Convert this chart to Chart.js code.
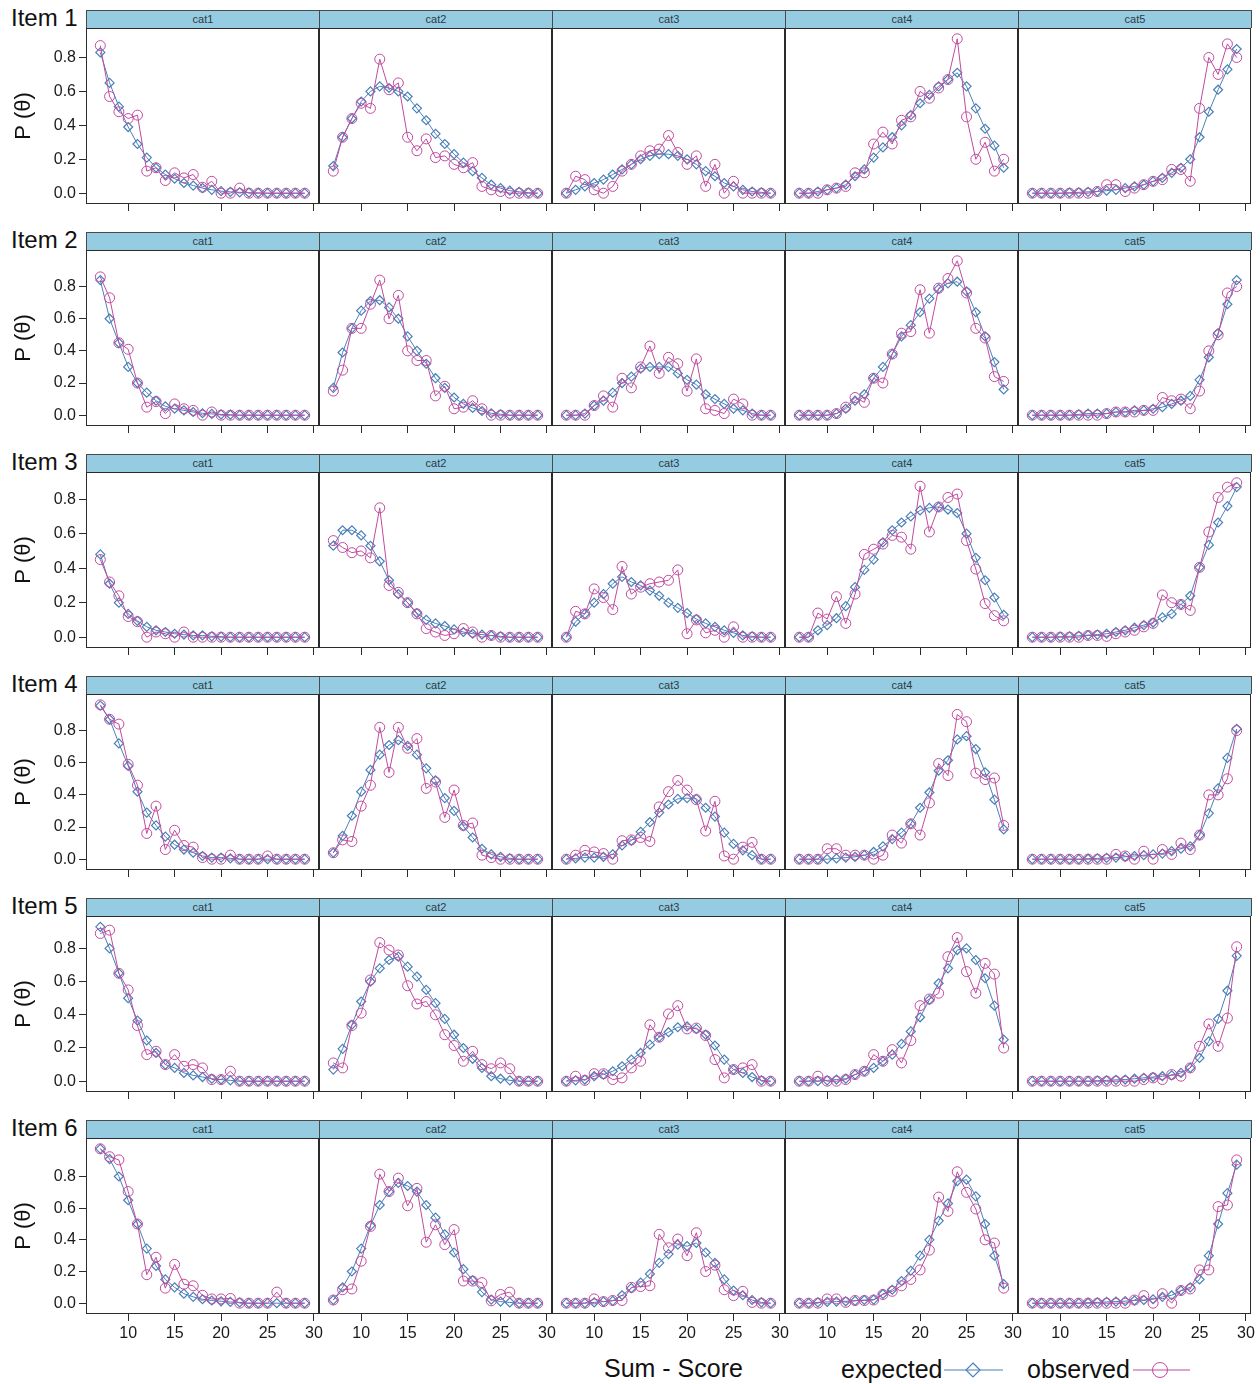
<!DOCTYPE html>
<html>
<head>
<meta charset="utf-8">
<script src="https://cdn.jsdelivr.net/npm/chart.js@4.4.1/dist/chart.umd.min.js"></script>
<style>
  body { margin: 0; background: #fff; }
  #fig { position: relative; width: 1260px; height: 1384px; overflow: hidden;
         font-family: "Liberation Sans", Arial, Helvetica, sans-serif; color: #111; }
  .strip { position: absolute; box-sizing: border-box; background: #95cce2;
           border: 1px solid #4a4a4a; border-bottom: none; font-size: 11px;
           line-height: 16px; text-align: center; color: #2d3a44; }
  .item { position: absolute; left: 11px; font-size: 24px; line-height: 24px; white-space: nowrap; }
  .box { position: absolute; }
  .xlab { position: absolute; font-size: 25px; line-height: 25px; white-space: nowrap; }
</style>
</head>
<body>
<div id="fig"></div>
<script>
// sum scores on the x axis
const sumScores = [7, 8, 9, 10, 11, 12, 13, 14, 15, 16, 17, 18, 19, 20, 21, 22, 23, 24, 25, 26, 27, 28, 29];
const xTicks = [10, 15, 20, 25, 30];
const yTicks = [0, 0.2, 0.4, 0.6, 0.8];
const categories = ['cat1', 'cat2', 'cat3', 'cat4', 'cat5'];
const items = ['Item 1', 'Item 2', 'Item 3', 'Item 4', 'Item 5', 'Item 6'];

// one list per category (cat1..cat5), values per sum score
const item1Expected = [
  [0.83,0.65,0.51,0.39,0.29,0.21,0.15,0.11,0.085,0.06,0.045,0.03,0.02,0.012,0.008,0.005,0.003,0.002,0,0,0,0,0],
  [0.16,0.33,0.44,0.54,0.60,0.63,0.62,0.60,0.57,0.50,0.43,0.35,0.29,0.23,0.18,0.13,0.09,0.05,0.03,0.015,0.008,0.003,0],
  [0,0.02,0.04,0.06,0.08,0.11,0.14,0.17,0.20,0.22,0.23,0.23,0.22,0.20,0.17,0.13,0.10,0.06,0.04,0.02,0.01,0.005,0],
  [0,0,0.01,0.02,0.03,0.05,0.10,0.14,0.21,0.27,0.33,0.40,0.46,0.53,0.58,0.63,0.67,0.71,0.63,0.50,0.38,0.28,0.15],
  [0,0,0,0,0.003,0.005,0.008,0.01,0.015,0.02,0.03,0.04,0.05,0.07,0.09,0.12,0.15,0.20,0.33,0.48,0.61,0.73,0.85]
];
const item1Observed = [
  [0.87,0.57,0.48,0.44,0.46,0.13,0.15,0.075,0.12,0.09,0.11,0.035,0.07,0,0,0.03,0,0,0,0,0,0,0],
  [0.13,0.33,0.44,0.53,0.50,0.79,0.61,0.65,0.33,0.25,0.32,0.21,0.22,0.17,0.15,0.18,0.04,0.02,0.01,0,0,0,0],
  [0,0.10,0.08,0.02,0,0.04,0.13,0.17,0.22,0.25,0.26,0.34,0.24,0.17,0.22,0.04,0.17,0,0.07,0,0,0,0],
  [0,0,0,0.02,0.03,0.04,0.12,0.12,0.29,0.36,0.29,0.43,0.45,0.60,0.56,0.62,0.67,0.91,0.45,0.20,0.30,0.13,0.20],
  [0,0,0,0,0,0,0,0.01,0.05,0.05,0.01,0.03,0.05,0.07,0.08,0.14,0.14,0.07,0.50,0.80,0.70,0.88,0.80]
];

const item2Expected = [
  [0.84,0.60,0.45,0.30,0.20,0.14,0.09,0.055,0.04,0.03,0.02,0.012,0.008,0.005,0.003,0,0,0,0,0,0,0,0],
  [0.17,0.39,0.54,0.65,0.71,0.715,0.67,0.60,0.49,0.40,0.32,0.23,0.17,0.11,0.07,0.045,0.026,0.012,0.006,0,0,0,0],
  [0,0,0.01,0.06,0.09,0.14,0.20,0.24,0.29,0.30,0.30,0.30,0.26,0.22,0.19,0.13,0.10,0.07,0.04,0.03,0.01,0,0],
  [0,0,0,0,0.01,0.04,0.09,0.13,0.23,0.30,0.38,0.49,0.56,0.64,0.725,0.785,0.82,0.83,0.77,0.64,0.49,0.33,0.16],
  [0,0,0,0,0,0.005,0.01,0.01,0.01,0.02,0.02,0.03,0.03,0.04,0.05,0.07,0.09,0.12,0.22,0.36,0.51,0.69,0.84]
];
const item2Observed = [
  [0.86,0.73,0.45,0.41,0.20,0.05,0.085,0.01,0.07,0.04,0.03,0,0.02,0,0,0,0,0,0,0,0,0,0],
  [0.15,0.28,0.54,0.54,0.69,0.84,0.60,0.745,0.40,0.34,0.34,0.12,0.18,0.04,0.05,0.09,0.04,0,0,0,0,0,0],
  [0,0,0,0.06,0.12,0.05,0.23,0.17,0.30,0.43,0.26,0.36,0.32,0.15,0.35,0.04,0.03,0.01,0.10,0.07,0,0,0],
  [0,0,0,0,0.01,0.05,0.11,0.08,0.23,0.20,0.38,0.51,0.52,0.78,0.51,0.79,0.85,0.96,0.76,0.54,0.48,0.24,0.21],
  [0,0,0,0,0,0,0,0,0.01,0.02,0.02,0.02,0.03,0.03,0.11,0.09,0.10,0.04,0.15,0.40,0.50,0.76,0.80]
];

const item3Expected = [
  [0.48,0.31,0.20,0.135,0.095,0.06,0.04,0.03,0.02,0.015,0.01,0.01,0.005,0.003,0,0,0,0,0,0,0,0,0],
  [0.53,0.62,0.62,0.59,0.53,0.44,0.33,0.25,0.20,0.14,0.10,0.08,0.065,0.045,0.03,0.02,0.015,0.01,0.005,0,0,0,0],
  [0,0.09,0.135,0.20,0.25,0.31,0.35,0.32,0.30,0.27,0.24,0.20,0.17,0.14,0.105,0.08,0.06,0.04,0.025,0.01,0.005,0,0],
  [0,0,0.04,0.07,0.11,0.18,0.29,0.39,0.45,0.55,0.62,0.665,0.70,0.735,0.75,0.755,0.74,0.72,0.60,0.46,0.33,0.23,0.13],
  [0,0,0,0.003,0.005,0.008,0.012,0.015,0.02,0.03,0.04,0.055,0.07,0.085,0.115,0.135,0.19,0.24,0.405,0.535,0.665,0.76,0.87]
];
const item3Observed = [
  [0.45,0.32,0.24,0.12,0.09,0,0.03,0.02,0,0.03,0,0,0,0,0,0,0,0,0,0,0,0,0],
  [0.56,0.52,0.49,0.50,0.46,0.75,0.30,0.26,0.20,0.135,0.05,0.03,0.01,0.02,0.05,0.03,0,0.01,0,0,0,0,0],
  [0,0.15,0.135,0.28,0.23,0.16,0.41,0.25,0.29,0.31,0.32,0.33,0.39,0.02,0.10,0.025,0.04,0,0.06,0,0,0,0],
  [0,0,0.14,0.105,0.235,0.08,0.25,0.48,0.51,0.54,0.59,0.58,0.51,0.875,0.61,0.755,0.81,0.83,0.56,0.395,0.195,0.125,0.095],
  [0,0,0,0,0,0,0.01,0.01,0.005,0.02,0.03,0.04,0.06,0.08,0.245,0.20,0.19,0.155,0.405,0.61,0.81,0.87,0.895]
];

const item4Expected = [
  [0.955,0.87,0.72,0.58,0.42,0.29,0.21,0.14,0.09,0.06,0.04,0.02,0.01,0.01,0.005,0,0,0,0,0,0,0,0],
  [0.04,0.145,0.27,0.42,0.555,0.65,0.71,0.74,0.705,0.65,0.565,0.49,0.38,0.30,0.205,0.135,0.065,0.03,0.015,0.005,0,0,0],
  [0,0.005,0.01,0.01,0.015,0.03,0.085,0.115,0.17,0.23,0.29,0.34,0.375,0.38,0.375,0.32,0.265,0.165,0.095,0.055,0.025,0,0],
  [0,0,0,0,0.005,0.01,0.015,0.025,0.045,0.08,0.125,0.165,0.22,0.32,0.415,0.55,0.615,0.745,0.765,0.685,0.54,0.37,0.185],
  [0,0,0,0,0,0,0.003,0.005,0.008,0.01,0.015,0.02,0.025,0.03,0.035,0.05,0.065,0.08,0.15,0.285,0.44,0.63,0.81]
];
const item4Observed = [
  [0.96,0.87,0.84,0.59,0.46,0.16,0.33,0.06,0.18,0.085,0.075,0.01,0,0,0.025,0,0,0,0.02,0,0,0,0],
  [0.04,0.12,0.11,0.33,0.46,0.82,0.54,0.82,0.69,0.75,0.44,0.48,0.26,0.43,0.21,0.225,0.025,0.01,0,0,0,0,0],
  [0,0.025,0.055,0.045,0.035,0,0.115,0.12,0.135,0.11,0.325,0.42,0.49,0.43,0.37,0.175,0.36,0.02,0,0.075,0.105,0,0],
  [0,0,0,0.065,0.065,0.025,0.025,0.025,0,0.025,0.15,0.10,0.22,0.15,0.35,0.595,0.52,0.90,0.855,0.535,0.495,0.505,0.21],
  [0,0,0,0,0,0,0,0,0,0.03,0.02,0,0.05,0,0.06,0.03,0.10,0.06,0.15,0.40,0.40,0.50,0.80]
];

const item5Expected = [
  [0.93,0.80,0.65,0.50,0.365,0.245,0.17,0.10,0.08,0.05,0.035,0.025,0.015,0.01,0.005,0,0,0,0,0,0,0,0],
  [0.07,0.195,0.34,0.48,0.60,0.68,0.73,0.75,0.69,0.63,0.55,0.47,0.375,0.28,0.20,0.135,0.08,0.03,0.015,0.005,0,0,0],
  [0,0.005,0.01,0.03,0.04,0.06,0.09,0.13,0.17,0.22,0.265,0.295,0.325,0.33,0.315,0.28,0.215,0.13,0.07,0.05,0.025,0.005,0],
  [0,0,0,0.005,0.01,0.015,0.04,0.06,0.08,0.12,0.16,0.225,0.30,0.385,0.49,0.59,0.68,0.79,0.80,0.73,0.62,0.455,0.25],
  [0,0,0,0,0,0,0,0.003,0.005,0.008,0.01,0.015,0.02,0.025,0.03,0.035,0.05,0.08,0.14,0.24,0.375,0.545,0.755]
];
const item5Observed = [
  [0.89,0.91,0.65,0.55,0.335,0.16,0.18,0.10,0.16,0.09,0.10,0.08,0.01,0.01,0.06,0,0,0,0,0,0,0,0],
  [0.11,0.08,0.335,0.41,0.61,0.835,0.79,0.76,0.575,0.465,0.48,0.40,0.28,0.215,0.12,0.18,0.10,0.075,0.11,0.075,0,0,0],
  [0,0.03,0.005,0.045,0.045,0.01,0.02,0.08,0.12,0.34,0.265,0.405,0.455,0.315,0.32,0.275,0.13,0.02,0.07,0.08,0.10,0,0],
  [0,0,0.03,0,0,0.01,0.04,0.06,0.16,0.12,0.19,0.11,0.245,0.455,0.495,0.53,0.75,0.865,0.66,0.53,0.71,0.645,0.20],
  [0,0,0,0,0,0,0,0,0,0,0,0,0.01,0.02,0.01,0.04,0.03,0.08,0.21,0.345,0.21,0.38,0.81]
];

const item6Expected = [
  [0.975,0.91,0.80,0.65,0.50,0.345,0.235,0.15,0.10,0.06,0.04,0.025,0.017,0.012,0.008,0.005,0,0,0,0,0,0,0],
  [0.02,0.10,0.20,0.345,0.49,0.62,0.705,0.76,0.74,0.705,0.62,0.54,0.435,0.32,0.215,0.145,0.07,0.023,0.01,0.005,0,0,0],
  [0,0,0,0.005,0.01,0.015,0.05,0.095,0.13,0.185,0.255,0.31,0.37,0.36,0.38,0.32,0.255,0.15,0.08,0.05,0.02,0.005,0],
  [0,0,0.005,0.008,0.01,0.012,0.015,0.02,0.023,0.058,0.085,0.14,0.205,0.30,0.40,0.52,0.63,0.77,0.78,0.675,0.50,0.30,0.12],
  [0,0,0,0,0,0,0.003,0.005,0.008,0.01,0.013,0.017,0.02,0.025,0.04,0.05,0.08,0.10,0.15,0.30,0.50,0.695,0.875]
];
const item6Observed = [
  [0.975,0.925,0.905,0.705,0.50,0.18,0.29,0.095,0.245,0.12,0.11,0.05,0.027,0.027,0.03,0,0,0,0,0.07,0,0,0],
  [0.02,0.085,0.09,0.265,0.485,0.815,0.705,0.79,0.615,0.725,0.385,0.495,0.37,0.465,0.14,0.14,0.13,0.015,0.055,0.07,0,0,0],
  [0,0,0,0.027,0.01,0.017,0.017,0.10,0.105,0.11,0.435,0.35,0.405,0.30,0.445,0.20,0.24,0.085,0.048,0.075,0.005,0,0],
  [0,0,0,0.027,0.027,0.005,0.017,0.017,0.02,0.055,0.075,0.11,0.15,0.21,0.335,0.67,0.58,0.83,0.70,0.595,0.40,0.38,0.095],
  [0,0,0,0,0,0,0,0,0,0,0,0.02,0.048,0,0.06,0,0.08,0.09,0.21,0.21,0.61,0.62,0.905]
];

const expectedByItem = [item1Expected, item2Expected, item3Expected, item4Expected, item5Expected, item6Expected];
const observedByItem = [item1Observed, item2Observed, item3Observed, item4Observed, item5Observed, item6Observed];

const EXP_COLOR = '#4a80b8';
const OBS_COLOR = '#c04a9e';
const AXIS_COLOR = '#2b2b2b';

Chart.defaults.font.family = '"Liberation Sans", Arial, Helvetica, sans-serif';
Chart.defaults.color = '#1a1a1a';

// layout of the lattice
const PANEL_W = 233, PANEL_H = 176, STRIP_H = 18, PAD = 6, Y_AXIS_W = 75;
const colLeft = c => 86 + PANEL_W * c;
const stripTop = r => 10 + 222 * r;

// lattice pads the data range by 7% on each side
const xMin = sumScores[0] - 0.07 * (sumScores[sumScores.length - 1] - sumScores[0]);
const xMax = sumScores[sumScores.length - 1] + 0.07 * (sumScores[sumScores.length - 1] - sumScores[0]);

const framePlugin = {
  id: 'frame',
  afterDraw(chart) {
    const { ctx, chartArea: a } = chart;
    ctx.save();
    ctx.strokeStyle = AXIS_COLOR;
    ctx.lineWidth = 1;
    ctx.strokeRect(Math.round(a.left) + 0.5, Math.round(a.top) + 0.5,
                   Math.round(a.right - a.left) - 1, Math.round(a.bottom - a.top) - 1);
    ctx.restore();
  }
};

const fig = document.getElementById('fig');

function addEl(cls, html, css) {
  const d = document.createElement('div');
  d.className = cls;
  d.innerHTML = html;
  Object.assign(d.style, css);
  fig.appendChild(d);
  return d;
}

items.forEach((item, r) => {
  const exp = expectedByItem[r];
  const obs = observedByItem[r];
  const top = Math.max(...exp.flat(), ...obs.flat());
  const yMin = -0.07 * top, yMax = 1.07 * top;
  const isBottom = r === items.length - 1;

  addEl('item', item, { top: (stripTop(r) - 4) + 'px' });

  categories.forEach((cat, c) => {
    const isLeft = c === 0;
    addEl('strip', cat, {
      left: colLeft(c) + 'px', top: stripTop(r) + 'px',
      width: (PANEL_W + 1) + 'px', height: STRIP_H + 'px'
    });

    const padL = isLeft ? 0 : PAD;
    const yW = isLeft ? Y_AXIS_W : 0;
    const xH = isBottom ? 34 : 9;
    const w = PANEL_W + padL + yW + PAD;
    const h = PANEL_H + PAD + xH;

    const box = addEl('box', '', {
      left: (colLeft(c) - yW - padL) + 'px', top: (stripTop(r) + STRIP_H - PAD) + 'px',
      width: w + 'px', height: h + 'px'
    });
    const cv = document.createElement('canvas');
    cv.width = w; cv.height = h;
    box.appendChild(cv);

    new Chart(cv, {
      type: 'line',
      data: {
        datasets: [
          {
            label: 'observed',
            data: sumScores.map((x, i) => ({ x, y: obs[c][i] })),
            borderColor: OBS_COLOR, borderWidth: 1,
            pointStyle: 'circle', pointRadius: 5,
            pointBorderColor: OBS_COLOR, pointBackgroundColor: 'rgba(0,0,0,0)', pointBorderWidth: 1,
            order: 0
          },
          {
            label: 'expected',
            data: sumScores.map((x, i) => ({ x, y: exp[c][i] })),
            borderColor: EXP_COLOR, borderWidth: 1,
            pointStyle: 'rectRot', pointRadius: 4.5,
            pointBorderColor: EXP_COLOR, pointBackgroundColor: 'rgba(0,0,0,0)', pointBorderWidth: 1.2,
            order: 1
          }
        ]
      },
      options: {
        responsive: false, animation: false, devicePixelRatio: 1,
        layout: { padding: { left: padL, right: PAD, top: PAD, bottom: 0 } },
        plugins: { legend: { display: false }, tooltip: { enabled: false } },
        elements: { line: { tension: 0 } },
        scales: {
          x: {
            type: 'linear', min: xMin, max: xMax,
            afterBuildTicks: s => { s.ticks = xTicks.map(v => ({ value: v })); },
            afterFit: s => { s.height = xH; s.paddingLeft = 0; s.paddingRight = 0; },
            grid: { drawOnChartArea: false, tickLength: 7, color: AXIS_COLOR, tickColor: AXIS_COLOR, lineWidth: 1 },
            border: { display: false },
            ticks: { display: isBottom, autoSkip: false, maxRotation: 0, padding: 3,
                     font: { size: 16 }, color: '#1a1a1a' }
          },
          y: {
            type: 'linear', display: isLeft, min: yMin, max: yMax,
            afterBuildTicks: s => { s.ticks = yTicks.map(v => ({ value: v })); },
            afterFit: s => { s.width = yW; s.paddingTop = 0; s.paddingBottom = 0; },
            grid: { drawOnChartArea: false, tickLength: 7, color: AXIS_COLOR, tickColor: AXIS_COLOR, lineWidth: 1 },
            border: { display: false },
            title: { display: true, text: 'P (θ)', font: { size: 22 }, color: '#111', padding: 0 },
            ticks: { padding: 3, font: { size: 16 }, color: '#1a1a1a',
                     callback: v => v.toFixed(1) }
          }
        }
      },
      plugins: [framePlugin]
    });
  });
});

// x axis title and key
addEl('xlab', 'Sum - Score', { left: '604px', top: '1356px' });
const key = document.createElementNS('http://www.w3.org/2000/svg', 'svg');
key.setAttribute('width', '400');
key.setAttribute('height', '40');
key.style.position = 'absolute';
key.style.left = '830px';
key.style.top = '1350px';
key.innerHTML =
  '<text x="11" y="28" font-size="25" font-family="Liberation Sans, Arial, sans-serif" fill="#111">expected</text>' +
  '<line x1="114" y1="20" x2="173" y2="20" stroke="' + EXP_COLOR + '" stroke-width="1"/>' +
  '<path d="M143 13 L150 20 L143 27 L136 20 Z" fill="none" stroke="' + EXP_COLOR + '" stroke-width="1.2"/>' +
  '<text x="197" y="28" font-size="25" font-family="Liberation Sans, Arial, sans-serif" fill="#111">observed</text>' +
  '<line x1="303" y1="20" x2="360" y2="20" stroke="' + OBS_COLOR + '" stroke-width="1"/>' +
  '<circle cx="330" cy="20" r="7.5" fill="none" stroke="' + OBS_COLOR + '" stroke-width="1"/>';
fig.appendChild(key);
</script>
</body>
</html>
